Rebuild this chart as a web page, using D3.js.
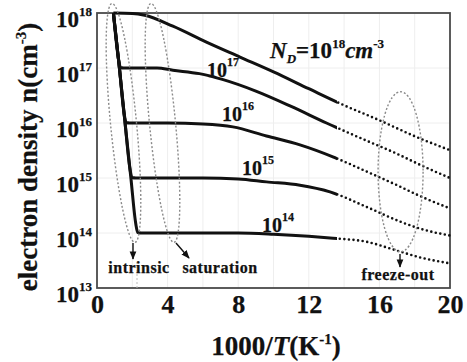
<!DOCTYPE html>
<html>
<head>
<meta charset="utf-8">
<script src="https://cdn.jsdelivr.net/npm/d3@7"></script>
<style>
  body { margin: 0; background: #fff; }
  svg text { font-family: "Liberation Serif", "Times New Roman", serif; font-weight: bold; fill: #111; stroke: #111; stroke-width: 0.25; }
</style>
</head>
<body>
<svg id="chart" width="467" height="362"></svg>
<script>
// [1000/T (1/K), n (cm^-3)], one array per donor density
var nd18 = [[0.93,1e18],[2.0,9.8e17],[2.7,9.1e17],[4.3,5.75e17],[6.2,2.95e17],[8.1,1.58e17],[10,8.5e16],[12,4.2e16],[14,2.1e16],[16,1.12e16],[18,5.75e15],[20,3.2e15]];
var nd17 = [[0.93,1e18],[1.22,1.45e17],[1.33,1.02e17],[1.5,1.0e17],[3.4,1.0e17],[4.3,9.1e16],[5.8,7.9e16],[7.1,6.2e16],[9.0,3.8e16],[11,2.0e16],[13,1.0e16],[15,5.2e15],[17,2.75e15],[18.3,1.74e15],[20,1.0e15]];
var nd16 = [[0.93,1e18],[1.27,1e17],[1.54,1.45e16],[1.65,1.02e16],[1.85,1.0e16],[4,1.0e16],[6,9.6e15],[7.7,8.5e15],[9.6,5.8e15],[11.5,4.0e15],[13.4,2.4e15],[15.3,1.3e15],[17.2,6.9e14],[18.3,4.7e14],[20,2.8e14]];
var nd15 = [[0.93,1e18],[1.27,1e17],[1.59,1e16],[1.87,1.45e15],[1.98,1.02e15],[2.2,1.0e15],[6,1.0e15],[8,9.6e14],[9.6,8.5e14],[11.5,7.4e14],[13.2,5.6e14],[15.3,2.95e14],[17.2,1.6e14],[18.3,1.2e14],[20,9.0e13]];
var nd14 = [[0.93,1e18],[1.27,1e17],[1.59,1e16],[1.92,1e15],[2.2,1.45e14],[2.31,1.02e14],[2.5,1.0e14],[8,1.0e14],[10,9.5e13],[12,8.7e13],[13.2,8.1e13],[15.3,6.9e13],[16.8,5.0e13],[18.3,3.6e13],[20,2.8e13]];

var xTicks = [0, 4, 8, 12, 16, 20];
var yExps = [13, 14, 15, 16, 17, 18];
var curveExps = ["17", "16", "15", "14"];
var regionNames = ["intrinsic", "saturation", "freeze-out"];

var svg = d3.select("#chart");
var x = d3.scaleLinear().domain([0, 20]).range([97, 450]);
var y = d3.scaleLog().domain([1e13, 1e18]).range([288, 13]);

// faint grid
svg.append("g").selectAll("line").data(d3.range(2, 20, 2)).enter().append("line")
  .attr("x1", d => x(d)).attr("x2", d => x(d)).attr("y1", 13).attr("y2", 288)
  .attr("stroke", "#eeeeee").attr("stroke-width", 1);
svg.append("g").selectAll("line").data([1e14, 1e15, 1e16, 1e17]).enter().append("line")
  .attr("x1", 97).attr("x2", 450).attr("y1", d => y(d)).attr("y2", d => y(d))
  .attr("stroke", "#eeeeee").attr("stroke-width", 1);

// frame
svg.append("rect").attr("x", 97).attr("y", 13).attr("width", 353).attr("height", 275)
  .attr("fill", "none").attr("stroke", "#4a4a4a").attr("stroke-width", 1.8);

// clip: solid up to ~13.6, dotted beyond (sparse T steps)
var cut = 13.6;
var defs = svg.append("defs");
defs.append("clipPath").attr("id", "solidClip").append("rect")
  .attr("x", 80).attr("y", 0).attr("width", x(cut) - 80).attr("height", 300);
defs.append("clipPath").attr("id", "dotClip").append("rect")
  .attr("x", x(cut)).attr("y", 0).attr("width", 460 - x(cut)).attr("height", 300);
defs.append("marker").attr("id", "arr").attr("viewBox", "0 0 10 10")
  .attr("refX", 9).attr("refY", 5).attr("markerWidth", 6).attr("markerHeight", 6)
  .attr("orient", "auto").append("path").attr("d", "M0,1L10,5L0,9Z").attr("fill", "#111");

var line = d3.line().x(d => x(d[0])).y(d => y(d[1])).curve(d3.curveMonotoneX);
var series = [nd18, nd17, nd16, nd15, nd14];

svg.append("g").attr("clip-path", "url(#solidClip)").selectAll("path").data(series).enter().append("path")
  .attr("d", line).attr("fill", "none").attr("stroke", "#111").attr("stroke-width", 3)
  .attr("stroke-linejoin", "round");
svg.append("g").attr("clip-path", "url(#dotClip)").selectAll("path").data(series).enter().append("path")
  .attr("d", line).attr("fill", "none").attr("stroke", "#111").attr("stroke-width", 2.6)
  .attr("stroke-linecap", "round").attr("stroke-dasharray", "0,4.6");

// dashed region ellipses
var ell = [
  {cx: x(1.5), cy: y(1e16), rx: 13, ry: 120, rot: -5.5},
  {cx: x(3.71), cy: y(1e16), rx: 13, ry: 120, rot: -5.5},
  {cx: x(17.2), cy: y(1.3e15), rx: 22.5, ry: 80, rot: 0}
];
svg.append("g").selectAll("ellipse").data(ell).enter().append("ellipse")
  .attr("transform", d => "translate(" + d.cx + "," + d.cy + ") rotate(" + d.rot + ")")
  .attr("rx", d => d.rx).attr("ry", d => d.ry)
  .attr("fill", "none").attr("stroke", "#8a8a8a").attr("stroke-width", 1.4).attr("stroke-dasharray", "2,2");

svg.append("line").attr("x1", 137).attr("x2", 137).attr("y1", 262).attr("y2", 288)
  .attr("stroke", "#bbb").attr("stroke-width", 1).attr("stroke-dasharray", "2,2");

// arrows
var arrows = [[133, 243, 133, 259], [176, 243, 189, 258], [400, 254, 400, 267]];
svg.append("g").selectAll("line").data(arrows).enter().append("line")
  .attr("x1", d => d[0]).attr("y1", d => d[1]).attr("x2", d => d[2]).attr("y2", d => d[3])
  .attr("stroke", "#111").attr("stroke-width", 1.4).attr("marker-end", "url(#arr)");

// region names
var namePos = [[139, 273], [220, 273], [398, 280]];
svg.append("g").selectAll("text").data(regionNames).enter().append("text")
  .attr("x", (d, i) => namePos[i][0]).attr("y", (d, i) => namePos[i][1])
  .attr("text-anchor", "middle").attr("font-size", 16).attr("letter-spacing", 0.5)
  .text(d => d);

// curve labels
var labPos = [[207, 77], [222, 121], [242, 175], [262, 232]];
var cl = svg.append("g").selectAll("text").data(curveExps).enter().append("text")
  .attr("x", (d, i) => labPos[i][0]).attr("y", (d, i) => labPos[i][1]);
cl.append("tspan").attr("font-size", 20).text("10");
cl.append("tspan").attr("font-size", 12).attr("dy", -11).text(d => d);

// x axis labels
var xa = svg.append("g").attr("transform", "translate(0,288)")
  .call(d3.axisBottom(x).tickValues(xTicks).tickSize(0).tickPadding(7).tickFormat(d3.format("d")));
xa.select(".domain").remove();
xa.attr("font-family", null).attr("font-size", null);
xa.selectAll("text").attr("font-size", 26).attr("fill", "#111");

// y axis labels
var yl = svg.append("g").selectAll("text").data(yExps).enter().append("text")
  .attr("x", 92).attr("y", d => y(Math.pow(10, d)) + 14).attr("text-anchor", "end");
yl.append("tspan").attr("font-size", 23).text("10");
yl.append("tspan").attr("font-size", 13).attr("dy", -11.5).text(d => d);

// axis titles
var xt = svg.append("text").attr("x", 276).attr("y", 355).attr("text-anchor", "middle").attr("font-size", 27);
xt.append("tspan").text("1000/");
xt.append("tspan").attr("font-style", "italic").text("T");
xt.append("tspan").text("(K");
xt.append("tspan").attr("font-size", 15).attr("dy", -11).text("-1");
xt.append("tspan").attr("dy", 11).text(")");

var yt = svg.append("text").attr("transform", "translate(37,157) rotate(-90)")
  .attr("text-anchor", "middle").attr("font-size", 27);
yt.append("tspan").text("electron density n(cm");
yt.append("tspan").attr("font-size", 15).attr("dy", -11).text("-3");
yt.append("tspan").attr("dy", 11).text(")");

// N_D annotation
var nd = svg.append("text").attr("x", 270).attr("y", 58).attr("font-size", 23);
nd.append("tspan").attr("font-style", "italic").text("N");
nd.append("tspan").attr("font-style", "italic").attr("font-size", 13).attr("dy", 5).text("D");
nd.append("tspan").attr("dy", -5).text("=10");
nd.append("tspan").attr("font-size", 13).attr("dy", -10).text("18");
nd.append("tspan").attr("font-style", "italic").attr("dy", 10).text("cm");
nd.append("tspan").attr("font-size", 13).attr("dy", -10).text("-3");
</script>
</body>
</html>
